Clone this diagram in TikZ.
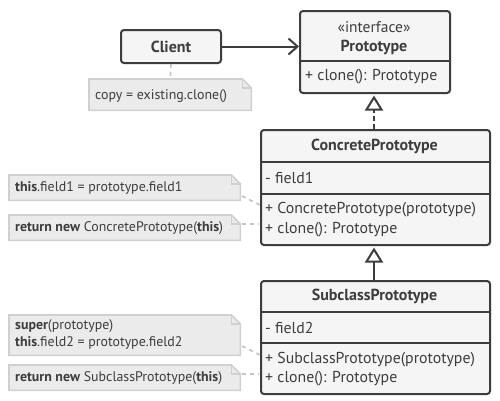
\documentclass[tikz,border=0pt]{standalone}
\usepackage{fontspec}
\setmainfont{PT Sans}
\usetikzlibrary{arrows.meta}
\definecolor{ink}{HTML}{3D3D3D}
\definecolor{boxfill}{HTML}{F5F5F5}
\definecolor{notefill}{HTML}{EBEBEB}
\definecolor{noteline}{HTML}{D0D0D0}
\definecolor{dashcol}{HTML}{C4C4C4}
\tikzset{
  classbox/.style={draw=ink, line width=2pt, fill=boxfill, rounded corners=3pt, inner sep=0pt, anchor=north west},
  divider/.style={draw=ink, line width=2pt},
  title/.style={inner sep=0pt, text=ink, font=\fontsize{16}{18}\selectfont\bfseries},
  member/.style={inner sep=0pt, text=ink, anchor=west, font=\fontsize{15.8}{18}\selectfont},
  stereo/.style={inner sep=0pt, text=ink, font=\fontsize{15.5}{18}\selectfont},
  noteframe/.style={inner sep=0pt, anchor=north west},
  notetext/.style={inner sep=0pt, text=ink, anchor=west, font=\fontsize{13.9}{16}\selectfont},
  notepath/.style={draw=noteline, fill=notefill, line width=1.6pt, line join=miter},
  notelink/.style={draw=dashcol, line width=1.6pt, dash pattern=on 4pt off 4pt},
  assoc/.style={draw=ink, line width=2pt, -{Straight Barb[length=9pt, width=16pt, line width=2pt]}},
  inherit/.style={draw=ink, line width=2pt, -{Triangle[open, length=15pt, width=18pt, line width=2pt, fill=white]}, shorten >=1.5pt},
}
\newcommand{\drawnote}[1]{%
  \path[notepath] (#1.south west) -- (#1.north west) -- ([xshift=-9pt]#1.north east)
     -- ([yshift=-9pt]#1.north east) -- (#1.south east) -- cycle;
  \draw[noteline, line width=1.6pt, line join=miter] ([xshift=-9pt]#1.north east) -- ([xshift=-9pt,yshift=-9pt]#1.north east) -- ([yshift=-9pt]#1.north east);
}
\begin{document}
\begin{tikzpicture}[x=1pt, y=-1pt]
\useasboundingbox[fill=white] (0,0) rectangle (500,400);

% ---------- Prototype ----------
\node[classbox, minimum width=150pt, minimum height=82pt] (proto) at (299,10) {};
\draw[divider] (proto.west |- 0,61) -- (proto.east |- 0,61);
\node[stereo] (protost) at (374,27) {«interface»};
\node[title] (protoname) at (374,47) {Prototype};
\node[member] (protoclone) at (305,77) {+ clone(): Prototype};

% ---------- Client ----------
\node[classbox, minimum width=100pt, minimum height=33pt] (client) at (120,29) {};
\node[title] (clientname) at (client.center) {Client};

% ---------- note 0 ----------
\node[noteframe, minimum width=162pt, minimum height=31pt] (n0) at (89,79) {};
\drawnote{n0}
\node[notetext] (n0t) at (95,96) {copy = existing.clone()};

% ---------- ConcretePrototype ----------
\node[classbox, minimum width=229pt, minimum height=115pt] (conc) at (260,129) {};
\draw[divider] (conc.west |- 0,162) -- (conc.east |- 0,162);
\draw[divider] (conc.west |- 0,194) -- (conc.east |- 0,194);
\node[title] (concname) at (374.5,146) {ConcretePrototype};
\node[member] (concf) at (265,178) {- field1};
\node[member] (concctor) at (265,210) {+ ConcretePrototype(prototype)};
\node[member] (concclone) at (265,230) {+ clone(): Prototype};

% ---------- SubclassPrototype ----------
\node[classbox, minimum width=229pt, minimum height=113pt] (sub) at (260,280) {};
\draw[divider] (sub.west |- 0,312) -- (sub.east |- 0,312);
\draw[divider] (sub.west |- 0,343) -- (sub.east |- 0,343);
\node[title] (subname) at (374.5,296) {SubclassPrototype};
\node[member] (subf) at (265,328) {- field2};
\node[member] (subctor) at (265,360) {+ SubclassPrototype(prototype)};
\node[member] (subclone) at (265,379) {+ clone(): Prototype};

% ---------- notes ----------
\node[noteframe, minimum width=231pt, minimum height=25pt] (n1) at (9,175) {};
\drawnote{n1}
\node[notetext] (n1t) at (15,188) {\textbf{this}.field1 = prototype.field1};

\node[noteframe, minimum width=231pt, minimum height=25pt] (n2) at (9,215) {};
\drawnote{n2}
\node[notetext] (n2t) at (15,228) {\textbf{return new} ConcretePrototype(\textbf{this})};

\node[noteframe, minimum width=231pt, minimum height=40pt] (n3) at (9,315) {};
\drawnote{n3}
\node[notetext] (n3a) at (15,326) {\textbf{super}(prototype)};
\node[notetext] (n3b) at (15,343) {\textbf{this}.field2 = prototype.field2};

\node[noteframe, minimum width=231pt, minimum height=25pt] (n4) at (9,365) {};
\drawnote{n4}
\node[notetext] (n4t) at (15,378) {\textbf{return new} SubclassPrototype(\textbf{this})};

% ---------- connectors ----------
\coordinate (c1a) at (242,196);
\coordinate (c1b) at (260,205);
\coordinate (c2a) at (242,224);
\coordinate (c2b) at (259,224);
\coordinate (c3a) at (242,346);
\coordinate (c3b) at (260,355);
\coordinate (c4a) at (242,374);
\coordinate (c4b) at (259,374);
\draw[notelink] (client.south) -- (n0.north);
\draw[notelink] (c1a) -- (c1b);
\draw[notelink] (c2a) -- (c2b);
\draw[notelink] (c3a) -- (c3b);
\draw[notelink] (c4a) -- (c4b);

\draw[assoc] (client.east) -- (proto.west |- client.east);
\draw[inherit, dash pattern=on 5pt off 3pt] (conc.north -| 374,0) -- (proto.south -| 374,0);
\draw[inherit] (sub.north -| 374,0) -- (conc.south -| 374,0);
\end{tikzpicture}
\end{document}
